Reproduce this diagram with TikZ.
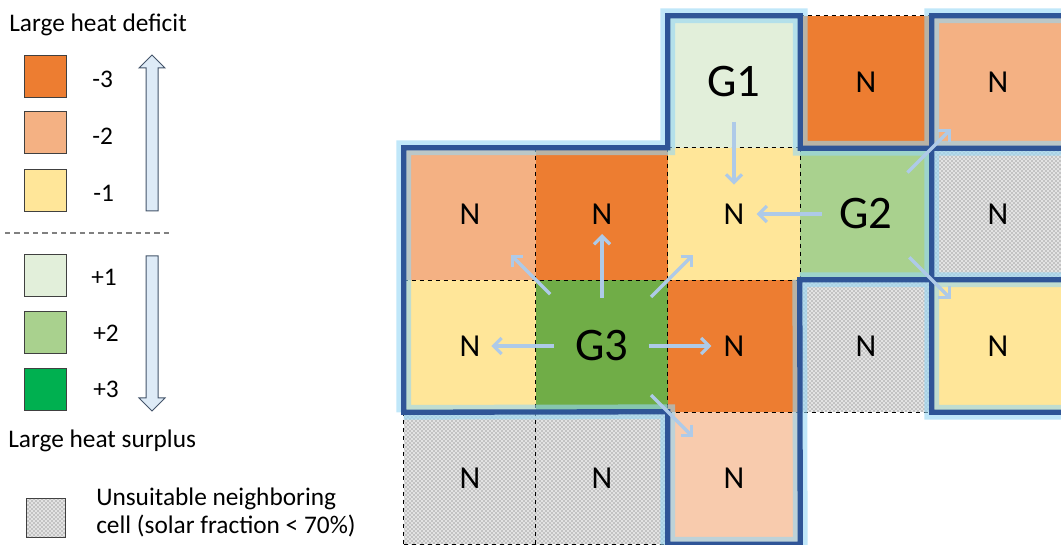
\documentclass[tikz,border=0pt]{standalone}
\usepackage{fontspec}
\setmainfont{Carlito}
\usepackage{tikz}
\usetikzlibrary{arrows.meta,patterns}

\definecolor{deficitA}{RGB}{237,125,49}
\definecolor{deficitB}{RGB}{244,177,131}
\definecolor{deficitC}{RGB}{255,230,153}
\definecolor{deficitD}{RGB}{248,203,173}
\definecolor{surplusA}{RGB}{226,239,218}
\definecolor{surplusB}{RGB}{169,209,142}
\definecolor{surplusC}{RGB}{0,176,80}
\definecolor{genthree}{RGB}{112,173,71}
\definecolor{zoneblue}{RGB}{47,85,151}
\definecolor{glowblue}{RGB}{150,215,245}
\definecolor{flowblue}{RGB}{174,202,232}
\definecolor{legarrow}{RGB}{222,235,247}
\definecolor{legedge}{RGB}{68,84,106}

\begin{document}
\begin{tikzpicture}[x=0.75pt,y=0.75pt,yscale=-1,xscale=1,
	cell/.style={minimum width=99pt,minimum height=99pt,inner sep=0pt,font=\fontsize{24}{24}\selectfont},
	gen/.style={cell,font=\fontsize{35}{35}\selectfont},
	unsuitable/.style={fill=gray!22,postaction={pattern=crosshatch dots,pattern color=black!65}},
	cellgrid/.style={draw=black,line width=0.9pt,dash pattern=on 3.5pt off 2.5pt},
	zone/.style={draw=zoneblue,line width=4pt,line cap=rect,line join=miter,
		preaction={draw=glowblue,line width=11pt,opacity=0.6}},
	flow/.style={draw=flowblue,line width=2.4pt,-{Straight Barb[length=6pt,width=12pt]}},
	legbox/.style={draw=black!75,line width=0.75pt,minimum size=31.5pt,inner sep=0pt},
	legtext/.style={font=\fontsize{19}{21}\selectfont,inner sep=0pt}]
	\useasboundingbox (0,0) rectangle (1061,545);
	\clip (0,0) rectangle (1061,545);
	
	%Legend: deficit side
	\node[legtext,anchor=west] (deficit) at (9,25) {Large heat deficit};
	\node[legbox,fill=deficitA] (leg-m3) at (45,77) {};
	\node[legbox,fill=deficitB] (leg-m2) at (45,133) {};
	\node[legbox,fill=deficitC] (leg-m1) at (45,191) {};
	\node[legtext,anchor=west] (lab-m3) at (92,79) {-3};
	\node[legtext,anchor=west] (lab-m2) at (92,136) {-2};
	\node[legtext,anchor=west] (lab-m1) at (93,193) {-1};
	%Block arrow up
	\draw[draw=legedge,fill=legarrow,line width=0.75pt] (146,211) -- (146,68) -- (139,68) -- (152,55) -- (165,68) -- (158,68) -- (158,211) -- cycle;
	
	%Separator
	\draw[gray,line width=0.8pt,dash pattern=on 4pt off 3pt] (5,233) -- (172,233);
	
	%Legend: surplus side
	\node[legbox,fill=surplusA] (leg-p1) at (45,276) {};
	\node[legbox,fill=surplusB] (leg-p2) at (45,333) {};
	\node[legbox,fill=surplusC] (leg-p3) at (45,390) {};
	\node[legtext,anchor=west] (lab-p1) at (91,277) {+1};
	\node[legtext,anchor=west] (lab-p2) at (93,333) {+2};
	\node[legtext,anchor=west] (lab-p3) at (93,389) {+3};
	%Block arrow down
	\draw[draw=legedge,fill=legarrow,line width=0.75pt] (146,256) -- (146,398) -- (139,398) -- (152,411) -- (165,398) -- (158,398) -- (158,256) -- cycle;
	\node[legtext,anchor=west] (surplus) at (8,441) {Large heat surplus};
	
	%Legend: unsuitable cell
	\node[legbox,unsuitable,minimum size=29pt] (leg-un) at (46,518) {};
	\node[legtext,anchor=north west,align=left] (lab-un) at (96,488) {Unsuitable neighboring\\cell (solar fraction < 70\%)};
	
	%Grid cells: row 0
	\node[gen,fill=surplusA] (c-2-0) at (734,82) {G1};
	\node[cell,fill=deficitA] (c-3-0) at (866,82) {N};
	\node[cell,fill=deficitB] (c-4-0) at (998,82) {N};
	%Grid cells: row 1
	\node[cell,fill=deficitB] (c-0-1) at (470,214) {N};
	\node[cell,fill=deficitA] (c-1-1) at (602,214) {N};
	\node[cell,fill=deficitC] (c-2-1) at (734,214) {N};
	\node[gen,fill=surplusB] (c-3-1) at (866,214) {G2};
	\node[cell,unsuitable] (c-4-1) at (998,214) {N};
	%Grid cells: row 2
	\node[cell,fill=deficitC] (c-0-2) at (470,346) {N};
	\node[gen,fill=genthree] (c-1-2) at (602,346) {G3};
	\node[cell,fill=deficitA] (c-2-2) at (734,346) {N};
	\node[cell,unsuitable] (c-3-2) at (866,346) {N};
	\node[cell,fill=deficitC] (c-4-2) at (998,346) {N};
	%Grid cells: row 3
	\node[cell,unsuitable] (c-0-3) at (470,478) {N};
	\node[cell,unsuitable] (c-1-3) at (602,478) {N};
	\node[cell,fill=deficitD] (c-2-3) at (734,478) {N};
	
	%Dashed cell edges
	\draw[cellgrid] (c-3-0.north west) -- (c-3-0.north east)
		(c-2-1.north west) -- (c-2-1.north east)
		(c-0-1.south west) -- (c-2-1.south east)
		(c-2-2.south west) -- (c-4-2.south east)
		(c-0-3.south west) -- (c-1-3.south east)
		(c-0-3.north west) -- (c-0-3.south west)
		(c-1-1.north west) -- (c-1-3.south west)
		(c-2-1.north west) -- (c-2-2.south west)
		(c-2-1.north east) -- (c-2-1.south east);
	
	%Zone outlines
	\draw[zone] (c-0-2.south west) -- (c-0-1.north west) -- (c-2-1.north west) -- (c-2-0.north west) -- (c-2-0.north east) -- (c-2-0.south east) -- (c-3-0.south east)
		(c-4-0.north east) -- (c-4-0.north west) -- (c-4-2.south west) -- (c-4-2.south east)
		(c-4-0.south west) -- (c-4-0.south east)
		(c-3-2.north west) -- (c-4-2.north east)
		(c-3-2.north west) -- (c-2-3.south east) -- (c-2-3.south west) -- (c-2-3.north west) -- (c-0-2.south west);
	
	%Heat flows from G1
	\draw[flow,shorten <=30pt,shorten >=22pt] (c-2-0.center) -- (c-2-1.center);
	%Heat flows from G2
	\draw[flow,shorten <=33pt,shorten >=17pt] (c-3-1.center) -- (c-2-1.center);
	\draw[flow,shorten <=44pt,shorten >=50pt] (c-3-1.center) -- (c-4-0.center);
	\draw[flow,shorten <=46pt,shorten >=50pt] (c-3-1.center) -- (c-4-2.center);
	%Heat flows from G3
	\draw[flow,shorten <=55pt,shorten >=43pt] (c-1-2.center) -- (c-0-1.center);
	\draw[flow,shorten <=36pt,shorten >=15pt] (c-1-2.center) -- (c-1-1.center);
	\draw[flow,shorten <=52pt,shorten >=43pt] (c-1-2.center) -- (c-2-1.center);
	\draw[flow,shorten <=36pt,shorten >=16pt] (c-1-2.center) -- (c-0-2.center);
	\draw[flow,shorten <=35pt,shorten >=17pt] (c-1-2.center) -- (c-2-2.center);
	\draw[flow,shorten <=52pt,shorten >=43pt] (c-1-2.center) -- (c-2-3.center);
	
\end{tikzpicture}
\end{document}
